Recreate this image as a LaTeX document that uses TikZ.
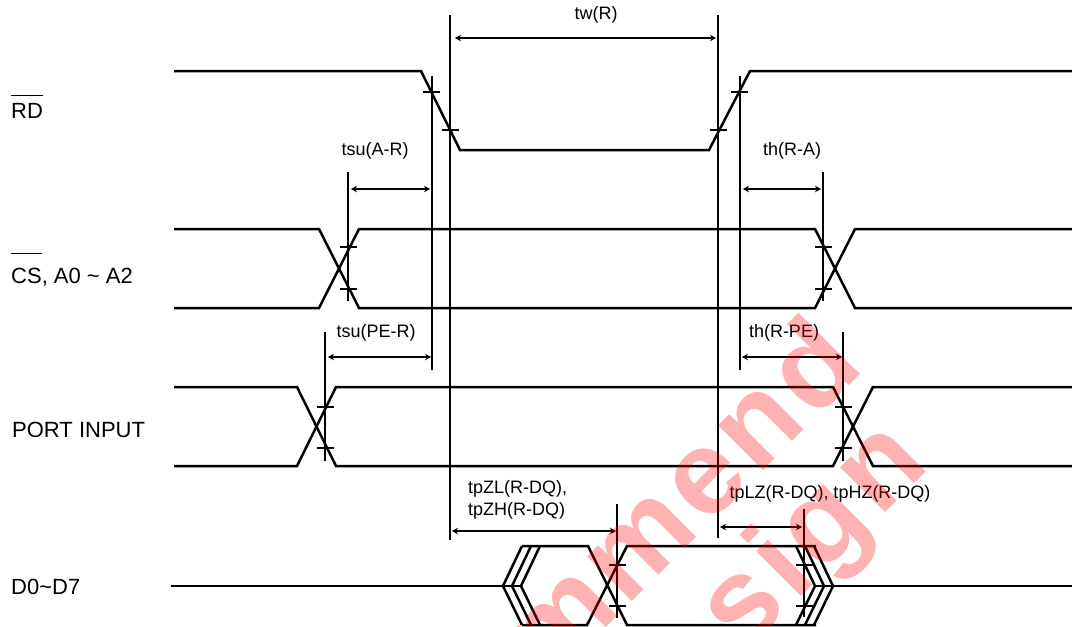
\documentclass[tikz,border=0pt]{standalone}
\usepackage{fontspec}
\setmainfont{Liberation Sans}
\usetikzlibrary{arrows.meta}
\newcommand{\sigbar}[2]{\setbox0\hbox{#2}\rlap{\rule[#1]{\wd0}{1.2pt}}#2}

\begin{document}
\begin{tikzpicture}[
    x=1pt,y=-1pt,
    >={Stealth[length=6pt,width=6.5pt]},
    every node/.style={font=\fontsize{18}{20}\selectfont,inner sep=0pt,anchor=base},
    signame/.style={font=\fontsize{22}{24}\selectfont,anchor=base west},
    stamp/.style={rotate=45,anchor=base east,text=red,opacity=.3,font=\fontsize{120}{120}\selectfont\bfseries\addfontfeatures{LetterSpace=5}},
    wave/.style={line width=2.5pt,line join=miter},
    guide/.style={line width=1.3pt},
    tick/.style={line width=1.1pt},
    span/.style={line width=1.5pt,<->}
]
\useasboundingbox (0,0) rectangle (1072,627);

% signal names
\node[signame] (rd) at (11,118) {\sigbar{22pt}{RD}};
\node[signame] (cs) at (11,283) {\sigbar{29pt}{CS}, A0 \textasciitilde{} A2};
\node[signame] (port) at (12,437) {PORT INPUT};
\node[signame] (data) at (11,594) {D0\textasciitilde D7};

% RD
\draw[wave] (174,71) -- (421,71) -- (460,150) -- (709,150) -- (750,71) -- (1072,71);

% CS, A0~A2
\draw[wave] (174,229) -- (319,229) -- (359,308) -- (815,308) -- (855,229) -- (1072,229);
\draw[wave] (174,308) -- (319,308) -- (359,229) -- (815,229) -- (855,308) -- (1072,308);

% port input
\draw[wave] (174,387) -- (297,387) -- (336,466) -- (833,466) -- (873,387) -- (1072,387);
\draw[wave] (174,466) -- (297,466) -- (336,387) -- (833,387) -- (873,466) -- (1072,466);

% D0~D7, left side
\draw[wave] (171,586) -- (522,586);
\foreach \i in {0,9,18}{
  \draw[wave] (522+\i,546) -- (503+\i,586) -- (522+\i,625);
}
\draw[wave] (522,546) -- (588,546) -- (627,625) -- (816,625);
\draw[wave] (522,625) -- (587,625) -- (627,546) -- (816,546);

% D0~D7, right side
\foreach \i in {0,9,18}{
  \draw[wave] (796+\i,546) -- (815+\i,586) -- (796+\i,625);
}
\draw[wave] (815,586) -- (1072,586);

% guide lines
\foreach \name/\x/\ya/\yb in {
    rdfall/450/15/540,rdrise/718/15/538,
    rdlow/432/76/370,rdhigh/740/76/370,
    csset/348/172/301,cshold/823/172/301,
    peset/325/332/461,pehold/843/332/461,
    onstart/617/504/618,offend/804/509/617}{
  \coordinate (\name top) at (\x,\ya);
  \coordinate (\name bot) at (\x,\yb);
  \draw[guide] (\name top) -- (\name bot);
}

% level marks
\foreach \x/\y in {
    423/92,442/130,710/130,731/92,
    340/247,340/289,815/247,815/289,
    317/407,317/448,835/407,835/448,
    609/565,609/606,796/565,796/606}{
  \draw[tick] (\x,\y) -- ++(17,0);
}

% time spans
\foreach \name/\xa/\xb/\y in {
    tw/455/716/38,
    tsua/351/430/189,tha/743/821/189,
    tsupe/328/431/357,thpe/742/842/357,
    tpz/452/616/531,tpl/720/802/527}{
  \coordinate (\name a) at (\xa,\y);
  \coordinate (\name b) at (\xb,\y);
  \draw[span] (\name a) -- (\name b);
}

% span labels
\node (twlabel) at (596,19) {tw(R)};
\node (tsualabel) at (375,155) {tsu(A-R)};
\node (thalabel) at (792,155) {th(R-A)};
\node (tsupelabel) at (376,337) {tsu(PE-R)};
\node (thpelabel) at (784,337) {th(R-PE)};
\node[anchor=base west] (tpzl) at (468,493) {tpZL(R-DQ),};
\node[anchor=base west] (tpzh) at (468,515) {tpZH(R-DQ)};
\node (tpllabel) at (830,498) {tpLZ(R-DQ), tpHZ(R-DQ)};

% stamp
\begin{scope}
  \clip (0,0) rectangle (1072,627);
  \node[stamp] (stampa) at (866,368) {mmend};
  \node[stamp] (stampb) at (931,467) {sign};
\end{scope}

\end{tikzpicture}
\end{document}
